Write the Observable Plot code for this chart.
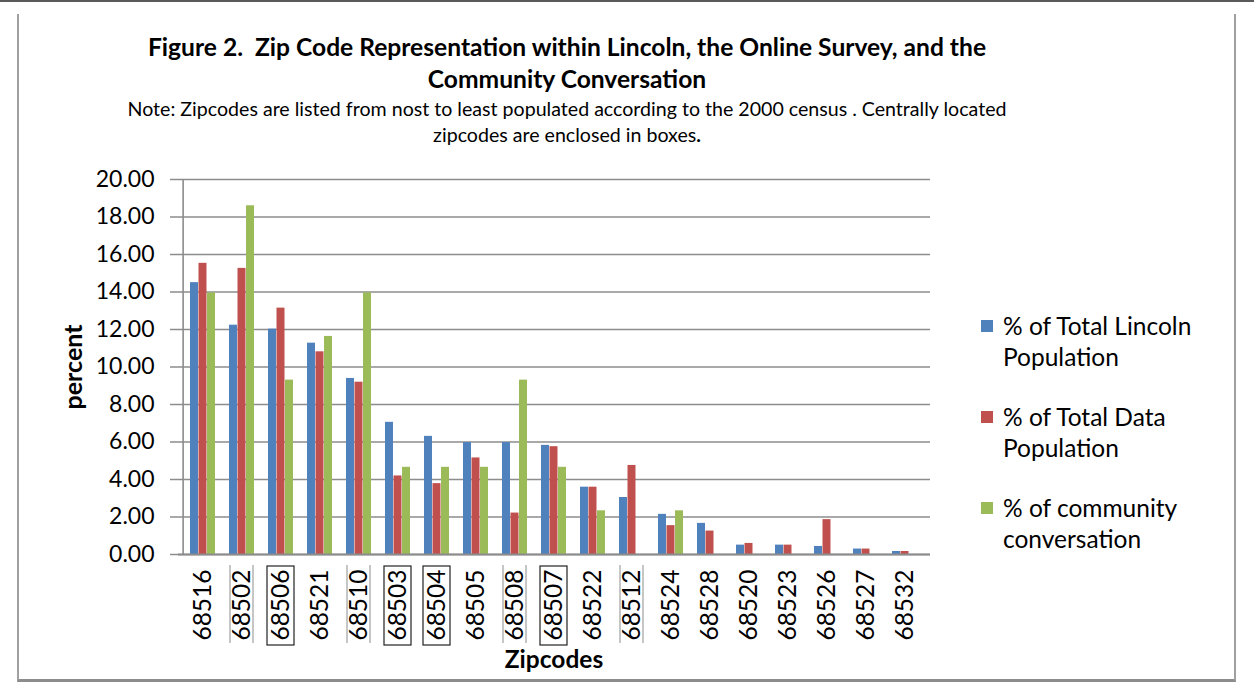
<!DOCTYPE html>
<html>
<head>
<meta charset="utf-8">
<script src="https://cdn.jsdelivr.net/npm/d3@7"></script>
<script src="https://cdn.jsdelivr.net/npm/@observablehq/plot@0.6"></script>
<style>
  html, body { margin: 0; padding: 0; background: #fff; }
  #wrap { position: relative; width: 1254px; height: 689px; overflow: hidden; font-family: Lato, "Open Sans", sans-serif; color: #000; }
  #topline { position: absolute; left: 0; top: 0; width: 1254px; height: 2px; background: #5a5a5a; }
  #frame { position: absolute; left: 17px; top: 14px; width: 1219px; height: 668px; border-left: 2px solid #a0a0a0; border-right: 2px solid #a0a0a0; border-bottom: 3px solid #8c8c8c; box-sizing: border-box; }
  #title { position: absolute; left: 17px; width: 1100px; top: 31px; text-align: center; font-weight: bold; font-size: 24.6px; line-height: 32px; }
  #note { position: absolute; left: 17px; width: 1100px; top: 96px; text-align: center; font-size: 19.6px; line-height: 26px; }
  #ylab { position: absolute; left: 72px; top: 367px; transform: translate(-50%, -50%) rotate(-90deg); font-weight: bold; font-size: 25px; white-space: nowrap; }
  #xlab { position: absolute; left: 554px; top: 644px; transform: translateX(-50%); font-weight: bold; font-size: 24.5px; white-space: nowrap; }
  #legend { position: absolute; left: 981px; top: 310px; font-size: 24.5px; line-height: 31px; }
  .item { position: relative; padding-left: 22px; margin-bottom: 29px; }
  .sw { position: absolute; left: 0; top: 10px; width: 12px; height: 12px; }
  #chart { position: absolute; left: 0; top: 0; }
  #chart svg g[aria-label="y-axis tick"] { stroke: #8c8c8c; stroke-width: 1.5; }
  #chart svg g[aria-label="y-axis tick label"] { font-size: 23px; }
  #chart svg g[aria-label="x-axis tick label"] { font-size: 24.5px; }
</style>
</head>
<body>
<div id="wrap">
  <div id="chart"></div>
  <div id="topline"></div>
  <div id="frame"></div>
  <div id="title">Figure 2.&nbsp; Zip Code Representation within Lincoln, the Online Survey, and the<br>Community Conversation</div>
  <div id="note">Note: Zipcodes are listed from nost to least populated according to the 2000 census . Centrally located<br>zipcodes are enclosed in boxes<b>.</b></div>
  <div id="ylab">percent</div>
  <div id="xlab">Zipcodes</div>
  <div id="legend"></div>
</div>
<script>
// ---- data ----
const zips = ["68516","68502","68506","68521","68510","68503","68504","68505","68508","68507","68522","68512","68524","68528","68520","68523","68526","68527","68532"];
const lincolnPop = [14.50,12.23,12.02,11.27,9.39,7.05,6.30,5.97,5.97,5.82,3.59,3.04,2.14,1.66,0.50,0.50,0.43,0.29,0.16];
const dataPop    = [15.53,15.26,13.14,10.81,9.19,4.19,3.78,5.15,2.21,5.75,3.59,4.75,1.54,1.25,0.59,0.50,1.86,0.29,0.16];
const community  = [13.95,18.60,9.30,11.63,13.95,4.65,4.65,4.65,9.30,4.65,2.33,0,2.33,0,0,0,0,0,0];
const seriesNames = ["% of Total Lincoln Population","% of Total Data Population","% of community conversation"];
const seriesLines = [["% of Total Lincoln","Population"],["% of Total Data","Population"],["% of community","conversation"]];
const seriesColors = ["#4F81BD","#C0504D","#9BBB59"];
const yTicks = [0,2,4,6,8,10,12,14,16,18,20];
const boxedZips = ["68506","68503","68504","68507"];
const linedZips = ["68502","68510","68508","68512"];

// ---- layout ----
const W = 1254, H = 689, mL = 178, mR = 324, mT = 179, mB = 135;
const pInner = 0.355, pOuter = 0.18;
const plotW = W - mL - mR;
const step = plotW / (zips.length - pInner + 2 * pOuter);
const bw = step * (1 - pInner);
const third = bw / 3;

const allSeries = [lincolnPop, dataPop, community];
const rows = [];
allSeries.forEach((vals, i) => zips.forEach((z, j) => rows.push({zip: z, series: seriesNames[i], idx: i, value: vals[j]})));

const barMarks = seriesNames.map((s, i) =>
  Plot.barY(rows.filter(r => r.idx === i && r.value > 0), {
    x: "zip", y: "value", fill: seriesColors[i],
    insetLeft: i * third, insetRight: (2 - i) * third
  })
);

const plot = Plot.plot({
  width: W, height: H,
  marginLeft: mL, marginRight: mR, marginTop: mT, marginBottom: mB,
  style: {fontFamily: "Lato, 'Open Sans', sans-serif", fontSize: "23px", color: "#000", background: "transparent"},
  x: {domain: zips, paddingInner: pInner, paddingOuter: pOuter, tickSize: 0, tickRotate: -90, tickPadding: 15, label: null},
  y: {domain: [0, 20], ticks: yTicks, tickFormat: d3.format(".2f"), tickSize: 8, tickPadding: 16, label: null},
  marks: [
    Plot.ruleY(yTicks, {stroke: "#8c8c8c", strokeWidth: 1.6}),
    Plot.ruleX([zips[0]], {dx: -(step * pOuter + bw / 2), stroke: "#8c8c8c", strokeWidth: 1.6}),
    ...barMarks,
    Plot.ruleY([0], {stroke: "#8c8c8c", strokeWidth: 2})
  ]
});
document.getElementById("chart").appendChild(plot);

// boxes around centrally located zip code labels
const xs = plot.scale("x");
const svg = d3.select(plot);
const g = svg.append("g");
boxedZips.forEach(z => {
  const cx = xs.apply(z) + xs.bandwidth / 2;
  g.append("rect").attr("x", cx - 13.5).attr("y", 566).attr("width", 27).attr("height", 79)
    .attr("fill", "none").attr("stroke", "#222").attr("stroke-width", 1.2);
});
linedZips.forEach(z => {
  const cx = xs.apply(z) + xs.bandwidth / 2;
  [-11.5, 11.5].forEach(d => g.append("line").attr("x1", cx + d).attr("x2", cx + d).attr("y1", 565).attr("y2", 643)
    .attr("stroke", "#a0a0a0").attr("stroke-width", 1.2));
});

// legend
const leg = document.getElementById("legend");
seriesNames.forEach((s, i) => {
  const d = document.createElement("div");
  d.className = "item";
  d.innerHTML = `<span class="sw" style="background:${seriesColors[i]}"></span>${seriesLines[i][0]}<br>${seriesLines[i][1]}`;
  leg.appendChild(d);
});
</script>
</body>
</html>
